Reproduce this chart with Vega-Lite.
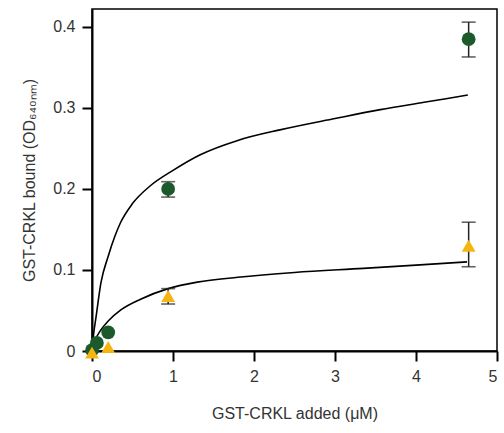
{
  "$schema": "https://vega.github.io/schema/vega-lite/v6.json",
  "width": 405,
  "height": 342,
  "autosize": "none",
  "padding": {"left": 92, "top": 9, "right": 7, "bottom": 82},
  "background": "white",
  "config": {
    "view": {"stroke": "black", "strokeWidth": 1.5},
    "scale": {"continuousPadding": 0},
    "axis": {
      "grid": false,
      "domainColor": "black",
      "domainWidth": 2,
      "tickColor": "black",
      "tickWidth": 2,
      "tickSize": 10,
      "labelFont": "Liberation Sans",
      "labelFontSize": 16,
      "labelColor": "#333333",
      "labelPadding": 7,
      "titleFont": "Liberation Sans",
      "titleFontSize": 16,
      "titleFontWeight": "normal",
      "titleColor": "#333333"
    }
  },
  "datasets": {
    "points": [
      {"series": "A", "x": 0, "y": 0.001, "lo": null, "hi": null},
      {"series": "A", "x": 0.06, "y": 0.01, "lo": null, "hi": null},
      {"series": "A", "x": 0.2, "y": 0.023, "lo": null, "hi": null},
      {"series": "A", "x": 0.94, "y": 0.2, "lo": 0.19, "hi": 0.209},
      {"series": "A", "x": 4.65, "y": 0.385, "lo": 0.363, "hi": 0.406},
      {"series": "B", "x": 0, "y": -0.002, "lo": null, "hi": null},
      {"series": "B", "x": 0.2, "y": 0.005, "lo": null, "hi": null},
      {"series": "B", "x": 0.94, "y": 0.068, "lo": 0.058, "hi": 0.077},
      {"series": "B", "x": 4.65, "y": 0.13, "lo": 0.104, "hi": 0.159}
    ],
    "curves": [
      {"series": "A", "x": 0, "y": 0},
      {"series": "A", "x": 0.02, "y": 0.021},
      {"series": "A", "x": 0.05, "y": 0.042},
      {"series": "A", "x": 0.11, "y": 0.084},
      {"series": "A", "x": 0.2, "y": 0.117},
      {"series": "A", "x": 0.28, "y": 0.141},
      {"series": "A", "x": 0.35, "y": 0.158},
      {"series": "A", "x": 0.5, "y": 0.182},
      {"series": "A", "x": 0.72, "y": 0.204},
      {"series": "A", "x": 1.0, "y": 0.223},
      {"series": "A", "x": 1.33, "y": 0.242},
      {"series": "A", "x": 1.8, "y": 0.26},
      {"series": "A", "x": 2.32, "y": 0.273},
      {"series": "A", "x": 3.0, "y": 0.287},
      {"series": "A", "x": 3.56, "y": 0.298},
      {"series": "A", "x": 4.1, "y": 0.307},
      {"series": "A", "x": 4.64, "y": 0.316},
      {"series": "B", "x": 0, "y": 0},
      {"series": "B", "x": 0.03, "y": 0.011},
      {"series": "B", "x": 0.11, "y": 0.026},
      {"series": "B", "x": 0.2, "y": 0.037},
      {"series": "B", "x": 0.36, "y": 0.051},
      {"series": "B", "x": 0.6, "y": 0.064},
      {"series": "B", "x": 0.94, "y": 0.077},
      {"series": "B", "x": 1.3, "y": 0.085},
      {"series": "B", "x": 1.8, "y": 0.091},
      {"series": "B", "x": 2.5, "y": 0.097},
      {"series": "B", "x": 3.35, "y": 0.102},
      {"series": "B", "x": 4.0, "y": 0.106},
      {"series": "B", "x": 4.63, "y": 0.11}
    ]
  },
  "layer": [
    {
      "data": {"name": "curves"},
      "mark": {"type": "line", "color": "black", "strokeWidth": 1.6, "interpolate": "monotone"},
      "encoding": {
        "x": {"field": "x", "type": "quantitative", "scale": {"domain": [0, 5], "nice": false, "padding": 0, "zero": false},
              "axis": {"values": [0, 1, 2, 3, 4, 5], "format": "d", "title": "GST-CRKL added (μM)", "titlePadding": 21}},
        "y": {"field": "y", "type": "quantitative", "scale": {"domain": [0, 0.4222], "nice": false, "padding": 0, "zero": false},
              "axis": {"values": [0, 0.1, 0.2, 0.3, 0.4], "labelExpr": "datum.value == 0 ? '0' : format(datum.value, '.1f')",
                       "title": "GST-CRKL bound (OD₆₄₀ₙₘ)", "titlePadding": 15}},
        "detail": {"field": "series"}
      }
    },
    {
      "data": {"name": "points"},
      "transform": [{"filter": "datum.lo != null"}],
      "mark": {"type": "rule", "color": "#222222", "strokeWidth": 1.5},
      "encoding": {
        "x": {"field": "x", "type": "quantitative"},
        "y": {"field": "lo", "type": "quantitative"},
        "y2": {"field": "hi"}
      }
    },
    {
      "data": {"name": "points"},
      "transform": [{"filter": "datum.lo != null"}],
      "mark": {"type": "tick", "orient": "horizontal", "color": "#222222", "size": 14, "thickness": 1.6},
      "encoding": {
        "x": {"field": "x", "type": "quantitative", "scale": {"padding": 0}},
        "y": {"field": "lo", "type": "quantitative", "scale": {"padding": 0}}
      }
    },
    {
      "data": {"name": "points"},
      "transform": [{"filter": "datum.lo != null"}],
      "mark": {"type": "tick", "orient": "horizontal", "color": "#222222", "size": 14, "thickness": 1.6},
      "encoding": {
        "x": {"field": "x", "type": "quantitative", "scale": {"padding": 0}},
        "y": {"field": "hi", "type": "quantitative", "scale": {"padding": 0}}
      }
    },
    {
      "data": {"name": "points"},
      "mark": {"type": "point", "filled": true, "opacity": 1, "size": 190},
      "encoding": {
        "x": {"field": "x", "type": "quantitative"},
        "y": {"field": "y", "type": "quantitative"},
        "shape": {"field": "series", "type": "nominal", "scale": {"domain": ["A", "B"], "range": ["circle", "triangle-up"]}, "legend": null},
        "color": {"field": "series", "type": "nominal", "scale": {"domain": ["A", "B"], "range": ["#1c5a2c", "#f5b40f"]}, "legend": null}
      }
    }
  ]
}
